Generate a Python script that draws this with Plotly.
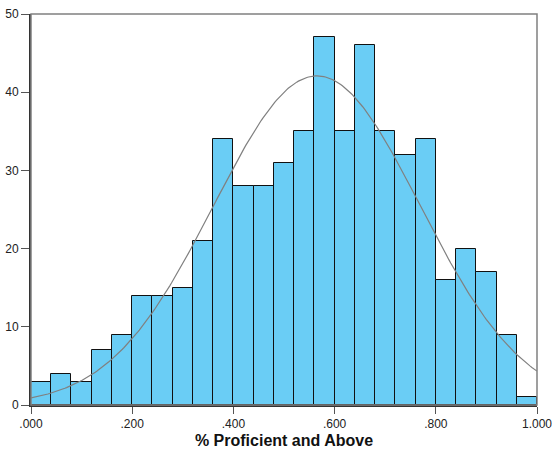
import numpy as np
import plotly.graph_objects as go

bin_starts = [round(i * 0.04, 2) for i in range(25)]
bin_width = 0.04
counts = [3, 4, 3, 7, 9, 14, 14, 15, 21, 34, 28, 28, 31, 35, 47, 35, 46, 35, 32, 34, 16, 20, 17, 9, 1]
tick_vals = [0, 0.2, 0.4, 0.6, 0.8, 1.0]
tick_text = [".000", ".200", ".400", ".600", ".800", "1.000"]
y_ticks = [0, 10, 20, 30, 40, 50]

# Normal curve parameters (read from the overlay)
mean = 0.565
sd = 0.204
n_total = sum(counts)

centers = [s + bin_width / 2 for s in bin_starts]
xs = np.linspace(0, 1, 300)
ys = n_total * bin_width / (sd * np.sqrt(2 * np.pi)) * np.exp(-((xs - mean) ** 2) / (2 * sd ** 2))

fig = go.Figure()
fig.add_trace(go.Bar(
    x=centers, y=counts, width=bin_width,
    marker=dict(color="#6ACDF5", line=dict(color="#111111", width=1)),
    showlegend=False, hoverinfo="skip",
))
fig.add_trace(go.Scatter(
    x=xs, y=ys, mode="lines",
    line=dict(color="#808080", width=1.2),
    showlegend=False, hoverinfo="skip",
))

fig.update_layout(
    width=552, height=451,
    margin=dict(l=31, r=15, t=14, b=46),
    paper_bgcolor="white", plot_bgcolor="white",
    font=dict(family="Liberation Sans, Arial, sans-serif", size=12, color="#222222"),
    bargap=0,
    shapes=[dict(type="rect", xref="paper", yref="paper", x0=0, y0=0, x1=1, y1=1,
                 line=dict(color="#808080", width=1.5), layer="above")],
)
fig.update_xaxes(
    range=[0, 1], tickvals=tick_vals, ticktext=tick_text,
    showgrid=False, zeroline=False, automargin=False,
    showline=True, linecolor="#333333", linewidth=2,
    ticks="outside", ticklen=7, tickcolor="#555555", tickwidth=1,
    ticklabeloverflow="allow",
    tickfont=dict(size=12, color="#222222"),
    title=dict(text="<b>% Proficient and Above</b>", font=dict(size=16, color="#111111"), standoff=4),
)
fig.update_yaxes(
    range=[0, 50], tickvals=y_ticks,
    showgrid=False, zeroline=False, automargin=False,
    showline=True, linecolor="#333333", linewidth=2,
    ticks="outside", ticklen=8, tickcolor="#555555", tickwidth=1,
    tickfont=dict(size=12, color="#222222"),
)

fig.write_html("out.html")
